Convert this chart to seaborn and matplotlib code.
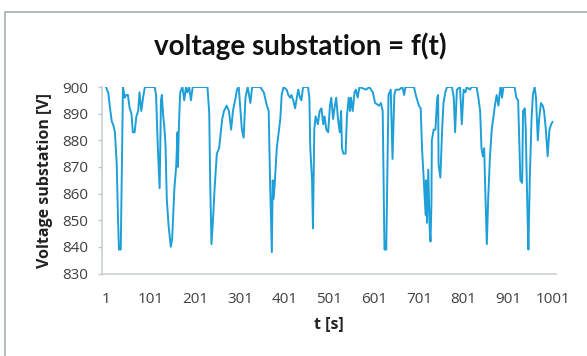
import matplotlib
matplotlib.use("Agg")
import matplotlib.pyplot as plt
from matplotlib.patches import Rectangle
import seaborn as sns
import pandas as pd

# time [s] and voltage [V]
t_s = [1, 3, 6, 10, 14, 17, 21, 25, 28, 30, 34, 37, 39, 43, 46, 50, 54, 58, 61, 65,
       69, 73, 76, 80, 84, 88, 110, 113, 117, 121, 124, 126, 129, 131, 134, 137, 141,
       146, 149, 154, 158, 161, 162, 164, 167, 172, 176, 180, 183, 187, 191, 195, 228,
       232, 234, 237, 241, 244, 249, 254, 261, 265, 271, 276, 281, 285, 291, 294, 298,
       302, 305, 309, 313, 318, 324, 328, 346, 354, 361, 365, 368, 372, 374, 376, 379,
       383, 391, 394, 398, 405, 409, 413, 416, 420, 424, 427, 431, 435, 438, 442, 453,
       456, 458, 462, 464, 467, 470, 475, 479, 483, 487, 490, 494, 498, 502, 505, 509,
       513, 516, 520, 524, 527, 529, 532, 537, 540, 544, 547, 549, 553, 557, 560, 564,
       568, 583, 590, 598, 603, 612, 616, 620, 622, 624, 628, 631, 633, 638, 642, 646,
       649, 657, 664, 668, 671, 690, 694, 701, 705, 708, 712, 716, 717, 719, 722, 725,
       727, 729, 730, 734, 738, 742, 744, 745, 749, 753, 756, 760, 764, 775, 779, 782,
       786, 793, 797, 801, 805, 808, 815, 819, 830, 834, 838, 841, 844, 847, 850, 853,
       856, 860, 864, 867, 871, 875, 879, 882, 884, 887, 890, 915, 919, 923, 926, 928,
       932, 934, 938, 940, 944, 946, 949, 953, 956, 960, 963, 967, 970, 974, 978, 981,
       985, 989, 993, 997, 1000]
voltage_v = [900, 899, 898, 892, 887, 886, 883, 871, 850, 839, 839, 877, 900, 896, 897, 897, 892, 890, 883, 883,
             889, 891, 898, 891, 896, 900, 900, 897, 877, 862, 895, 897, 889, 886, 879, 858, 848,
             840, 843, 862, 870, 883, 870, 885, 898, 900, 895, 900, 898, 900, 895, 900, 900,
             890, 865, 841, 852, 862, 875, 877, 888, 891, 893, 891, 884, 891, 896, 899, 900,
             891, 884, 881, 896, 900, 894, 900, 900, 898, 893, 891, 865, 838, 865, 858, 865,
             877, 888, 897, 900, 899, 897, 896, 897, 895, 892, 895, 899, 896, 895, 900, 900,
             896, 877, 865, 847, 884, 889, 886, 891, 892, 886, 889, 884, 883, 893, 896, 888,
             893, 896, 888, 883, 891, 877, 875, 875, 889, 896, 891, 896, 891, 898, 899, 896,
             900, 899, 900, 898, 894, 893, 894, 891, 865, 839, 839, 874, 897, 899, 873, 897,
             899, 899, 900, 897, 900, 900, 897, 893, 892, 877, 865, 852, 865, 849, 869, 847,
             842, 856, 880, 884, 884, 896, 897, 871, 866, 884, 894, 898, 900, 900, 896, 883,
             899, 900, 886, 899, 898, 900, 899, 900, 900, 896, 891, 877, 874, 877, 858, 841,
             858, 874, 884, 888, 893, 897, 893, 898, 900, 896, 900, 900, 896, 895, 877, 865,
             864, 891, 892, 884, 852, 839, 865, 888, 897, 900, 896, 880, 888, 894, 893, 891,
             884, 874, 884, 886, 887]
x_tick_labels = ["1", "101", "201", "301", "401", "501", "601", "701", "801", "901", "1001"]
y_ticks = [830, 840, 850, 860, 870, 880, 890, 900]

df = pd.DataFrame({"t": t_s, "v": voltage_v})

sns.set_style("white")
plt.rcParams["font.family"] = ["Open Sans", "DejaVu Sans"]

W, H = 587, 356
fig = plt.figure(figsize=(W / 100, H / 100), dpi=100)
fig.patch.set_facecolor("white")

# outer chart frame
fig.add_artist(Rectangle((5 / W, -0.1), 1.2, 1.1 - 12 / H, transform=fig.transFigure,
                         fill=False, edgecolor="#aab6b2", linewidth=1.3))

ax = fig.add_axes([101.7 / W, 1 - 273.5 / H, (555.5 - 101.7) / W, (273.5 - 87) / H])
sns.lineplot(data=df, x="t", y="v", ax=ax, color="#1e9fd8", linewidth=1.4)

ax.set_xlim(-8.6, 1006.6)
ax.set_ylim(830, 900)
ax.set_yticks(y_ticks)
ax.set_yticklabels([str(v) for v in y_ticks])
ax.set_xticks([int(s) for s in x_tick_labels])
ax.set_xticklabels(x_tick_labels)

for side in ["top", "right"]:
    ax.spines[side].set_visible(False)
for side in ["left", "bottom"]:
    ax.spines[side].set_color("#c4caca")
    ax.spines[side].set_linewidth(1.1)

ax.tick_params(axis="y", which="major", length=3, width=1, color="#c4caca",
               labelsize=11, labelcolor="#404040", pad=7, direction="out", left=True)
ax.tick_params(axis="x", which="major", length=0, labelsize=11, labelcolor="#404040", pad=13)

ax.set_xlabel("t [s]", fontsize=11.5, fontweight="bold", color="#222222", labelpad=7)
ax.set_ylabel("Voltage substation [V]", fontsize=11.5, fontweight="bold", color="#222222", labelpad=6)
fig.text(300 / W, 1 - 46 / H, "voltage substation = f(t)", ha="center", va="center",
         fontsize=20, fontweight="bold", color="#111111", family=["Lato", "DejaVu Sans"])

fig.savefig("out.png", dpi=100, facecolor="white")
